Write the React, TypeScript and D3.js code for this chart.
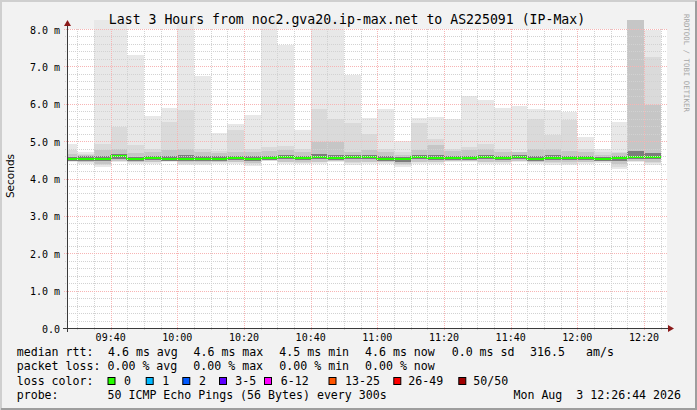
import * as d3 from 'd3';
import React, { useEffect, useRef } from 'react';

// 5 minute steps, label = end of each step
const stepEnds = [
  '09:30', '09:35', '09:40', '09:45', '09:50', '09:55', '10:00', '10:05', '10:10',
  '10:15', '10:20', '10:25', '10:30', '10:35', '10:40', '10:45', '10:50', '10:55',
  '11:00', '11:05', '11:10', '11:15', '11:20', '11:25', '11:30', '11:35', '11:40',
  '11:45', '11:50', '11:55', '12:00', '12:05', '12:10', '12:15', '12:20', '12:25'
];

// ms (top of each gray layer)
const maxRtt = [
  4.93, 4.71, 8.5, 8.5, 7.3, 5.67, 5.89, 8.5, 6.73, 5.22, 5.47, 5.71,
  8.5, 7.56, 5.31, 8.5, 8.5, 6.76, 5.62, 5.87, 5.0, 5.62, 5.65, 5.6,
  6.21, 6.11, 5.89, 5.95, 5.85, 5.83, 5.78, 5.1, 4.8, 5.51, 8.5, 7.96
];
const hi2 = [
  4.76, 4.66, 4.93, 5.38, 4.89, 4.8, 5.51, 5.82, 4.78, 4.74, 5.29, 4.78,
  4.85, 4.87, 4.78, 5.85, 5.6, 5.49, 5.2, 4.78, 4.72, 5.49, 5.07, 4.78,
  4.85, 4.91, 4.78, 4.72, 5.6, 5.16, 5.56, 4.78, 4.7, 4.72, 8.5, 7.25
];
const hi3 = [
  4.66, 4.62, 4.76, 4.78, 4.68, 4.7, 4.76, 4.8, 4.72, 4.68, 4.72, 4.7,
  4.74, 4.76, 4.7, 4.98, 4.98, 4.72, 4.76, 4.7, 4.62, 4.76, 4.89, 4.74,
  4.76, 4.78, 4.72, 4.7, 4.78, 4.8, 4.74, 4.72, 4.62, 4.68, 8.5, 5.96
];
const hi4 = [
  4.58, 4.6, 4.6, 4.65, 4.58, 4.61, 4.6, 4.62, 4.6, 4.59, 4.6, 4.6,
  4.61, 4.64, 4.6, 4.66, 4.62, 4.64, 4.63, 4.6, 4.58, 4.64, 4.62, 4.61,
  4.61, 4.64, 4.61, 4.64, 4.6, 4.62, 4.61, 4.61, 4.58, 4.6, 4.74, 4.68
];
const median = [
  4.52, 4.535, 4.53, 4.59, 4.52, 4.55, 4.535, 4.535, 4.535, 4.535, 4.54, 4.535,
  4.55, 4.585, 4.545, 4.585, 4.545, 4.585, 4.575, 4.535, 4.515, 4.585, 4.55, 4.55,
  4.55, 4.585, 4.55, 4.585, 4.53, 4.56, 4.55, 4.545, 4.52, 4.55, 4.585, 4.585
];
const lo4 = [
  4.47, 4.48, 4.47, 4.53, 4.47, 4.5, 4.48, 4.48, 4.48, 4.48, 4.49, 4.48,
  4.5, 4.53, 4.49, 4.53, 4.49, 4.53, 4.52, 4.48, 4.45, 4.53, 4.5, 4.5,
  4.5, 4.53, 4.5, 4.53, 4.48, 4.5, 4.49, 4.49, 4.47, 4.48, 4.52, 4.52
];
const lo3 = [
  4.49, 4.45, 4.4, 4.48, 4.45, 4.45, 4.48, 4.43, 4.43, 4.45, 4.45, 4.42,
  4.5, 4.45, 4.44, 4.45, 4.48, 4.44, 4.45, 4.45, 4.4, 4.45, 4.45, 4.48,
  4.48, 4.45, 4.45, 4.48, 4.45, 4.44, 4.43, 4.45, 4.47, 4.38, 4.48, 4.44
];
const lo2 = [
  4.47, 4.43, 4.35, 4.46, 4.43, 4.43, 4.46, 4.39, 4.39, 4.43, 4.43, 4.38,
  4.48, 4.43, 4.41, 4.43, 4.46, 4.41, 4.43, 4.43, 4.35, 4.43, 4.43, 4.46,
  4.46, 4.43, 4.43, 4.46, 4.43, 4.41, 4.39, 4.43, 4.45, 4.32, 4.46, 4.41
];
const minRtt = [
  4.44, 4.4, 4.31, 4.44, 4.4, 4.4, 4.44, 4.35, 4.35, 4.4, 4.4, 4.34,
  4.46, 4.4, 4.38, 4.4, 4.44, 4.37, 4.4, 4.4, 4.31, 4.4, 4.4, 4.44,
  4.44, 4.4, 4.4, 4.44, 4.4, 4.37, 4.35, 4.4, 4.42, 4.26, 4.44, 4.37
];

const yTicks = [0, 1, 2, 3, 4, 5, 6, 7, 8];

const statLine1 = [
  ['median rtt:', 16.7], ['4.6 ms avg', 108], ['4.6 ms max', 193.5], ['4.5 ms min', 279.3],
  ['4.6 ms now', 365], ['0.0 ms sd', 451.7], ['316.5', 530], ['am/s', 586]
] as const;
const statLine2 = [
  ['packet loss:', 16.7], ['0.00 % avg', 107.5], ['0.00 % max', 193.3], ['0.00 % min', 279.3],
  ['0.00 % now', 365]
] as const;
// loss colour legend: label, swatch colour, swatch x, label x
const lossLegend = [
  ['0', '#26ff00', 107.5, 124],
  ['1', '#00b8ff', 145.7, 162.3],
  ['2', '#0059ff', 182.3, 199],
  ['3-5', '#5e00ff', 219, 235.3],
  ['6-12', '#ff00ff', 264, 280.7],
  ['13-25', '#ff5500', 328.5, 345],
  ['26-49', '#ff0000', 393.3, 408.3],
  ['50/50', '#a10000', 458.3, 473.3]
] as const;

const W = 697;
const H = 410;
const mono = '"DejaVu Sans Mono", monospace';

const toDate = (hhmm: string) => {
  const [h, m] = hhmm.split(':').map(Number);
  return new Date(2026, 7, 3, h, m, 0);
};

const SmokeChart: React.FC = () => {
  const ref = useRef<SVGSVGElement>(null);

  useEffect(() => {
    const svg = d3.select(ref.current);
    svg.selectAll('*').remove();

    const tStart = new Date(2026, 7, 3, 9, 26, 54);
    const tEnd = new Date(2026, 7, 3, 12, 26, 54);
    const x = d3.scaleTime().domain([tStart, tEnd]).range([67, 667]);
    const y = d3.scaleLinear().domain([0, 8]).range([328, 29]);
    const crisp = (v: number) => Math.round(v) + 0.5;

    // background + 3d frame like rrdtool
    svg.append('rect').attr('width', W).attr('height', H).attr('fill', '#f2f2f2');
    svg.append('path').attr('d', `M1,${H} V1 H${W}`).attr('stroke', '#cfcfcf').attr('stroke-width', 2).attr('fill', 'none');
    svg.append('path').attr('d', `M1,${H - 1} H${W - 1} V1`).attr('stroke', '#9e9e9e').attr('stroke-width', 2).attr('fill', 'none');

    svg.append('rect').attr('x', 67).attr('y', 29).attr('width', 600).attr('height', 299).attr('fill', '#fff');

    svg.append('defs').append('clipPath').attr('id', 'plotClip')
      .append('rect').attr('x', 67).attr('y', 20).attr('width', 600).attr('height', 308);

    const plot = svg.append('g').attr('clip-path', 'url(#plotClip)');

    // smoke layers, outer = light, inner = dark
    const layers = [
      { top: maxRtt, bot: minRtt, color: '#e8e8e8' },
      { top: hi2, bot: lo2, color: '#dadada' },
      { top: hi3, bot: lo3, color: '#c6c6c6' },
      { top: hi4, bot: lo4, color: '#7c7c7c' }
    ];
    layers.forEach((layer) => {
      plot.append('g').selectAll('rect')
        .data(stepEnds)
        .enter()
        .append('rect')
        .attr('x', (d) => x(d3.timeMinute.offset(toDate(d), -5)))
        .attr('width', (d) => x(toDate(d)) - x(d3.timeMinute.offset(toDate(d), -5)))
        .attr('y', (_d, i) => y(Math.min(layer.top[i], 8.5)))
        .attr('height', (_d, i) => y(layer.bot[i]) - y(Math.min(layer.top[i], 8.5)))
        .attr('fill', layer.color)
        .attr('shape-rendering', 'crispEdges');
    });

    // grid (dotted, drawn over the smoke)
    const grid = svg.append('g').attr('shape-rendering', 'crispEdges');
    const minorCol = '#d2d2d2';
    const majorCol = '#f7b4b4';
    const minorY = d3.range(0, 8.01, 0.2).filter((v) => Math.abs(v - Math.round(v)) > 0.01);
    grid.selectAll('.hminor').data(minorY).enter().append('line')
      .attr('x1', 65).attr('x2', 667)
      .attr('y1', (d) => crisp(y(d))).attr('y2', (d) => crisp(y(d)))
      .attr('stroke', minorCol).attr('stroke-dasharray', '1,1');
    const minorX = d3.timeMinute.every(5)!.range(tStart, tEnd).filter((d) => d.getMinutes() % 20 !== 0);
    grid.selectAll('.vminor').data(minorX).enter().append('line')
      .attr('x1', (d) => crisp(x(d))).attr('x2', (d) => crisp(x(d)))
      .attr('y1', 29).attr('y2', 330)
      .attr('stroke', minorCol).attr('stroke-dasharray', '1,1');
    grid.selectAll('.hmajor').data(yTicks.filter((v) => v > 0)).enter().append('line')
      .attr('x1', 64).attr('x2', 667)
      .attr('y1', (d) => crisp(y(d))).attr('y2', (d) => crisp(y(d)))
      .attr('stroke', majorCol).attr('stroke-dasharray', '1,1');
    const majorX = d3.timeMinute.every(20)!.range(tStart, tEnd);
    grid.selectAll('.vmajor').data(majorX).enter().append('line')
      .attr('x1', (d) => crisp(x(d))).attr('x2', (d) => crisp(x(d)))
      .attr('y1', 29).attr('y2', 331)
      .attr('stroke', majorCol).attr('stroke-dasharray', '1,1');

    // median line (loss 0 -> green)
    const pts: [Date, number][] = stepEnds.map((d, i) => [d3.timeMinute.offset(toDate(d), -5), median[i]]);
    pts.push([toDate(stepEnds[stepEnds.length - 1]), median[median.length - 1]]);
    const medLine = d3.line<[Date, number]>()
      .x((d) => x(d[0]))
      .y((d) => y(d[1]))
      .curve(d3.curveStepAfter);
    plot.append('path').attr('d', medLine(pts)).attr('fill', 'none')
      .attr('stroke', '#26ff00').attr('stroke-width', 2).attr('shape-rendering', 'crispEdges');

    // axes
    svg.append('line').attr('x1', 63).attr('x2', 669).attr('y1', 328.5).attr('y2', 328.5).attr('stroke', '#3a3a3a');
    svg.append('line').attr('x1', 67.5).attr('x2', 67.5).attr('y1', 332).attr('y2', 25).attr('stroke', '#3a3a3a');
    svg.append('path').attr('d', 'M64,26 L71,26 L67.5,20 Z').attr('fill', '#8b1a1a');
    svg.append('path').attr('d', 'M668,325 L668,332 L674,328.5 Z').attr('fill', '#8b1a1a');

    // tick labels
    svg.append('g').selectAll('text').data(yTicks).enter().append('text')
      .attr('x', 60).attr('y', (d) => y(d) + 4.5)
      .attr('text-anchor', 'end')
      .attr('font-family', mono).attr('font-size', 10).attr('fill', '#000')
      .text((d) => (d === 0 ? '0.0' : `${d.toFixed(1)} m`));
    const fmt = d3.timeFormat('%H:%M');
    svg.append('g').selectAll('text').data(majorX).enter().append('text')
      .attr('x', (d) => x(d)).attr('y', 340.5)
      .attr('text-anchor', 'middle')
      .attr('font-family', mono).attr('font-size', 10).attr('fill', '#000')
      .text((d) => fmt(d));

    // title + vertical labels
    svg.append('text').attr('x', 347).attr('y', 23.5).attr('text-anchor', 'middle')
      .attr('font-family', mono).attr('font-size', 13.2).attr('fill', '#000')
      .text('Last 3 Hours from noc2.gva20.ip-max.net to AS225091 (IP-Max)');
    svg.append('text').attr('transform', 'translate(684,14) rotate(90)')
      .attr('font-family', mono).attr('font-size', 7.4).attr('fill', '#a6a6a6')
      .text('RRDTOOL / TOBI OETIKER');
    svg.append('text')
      .attr('transform', 'rotate(-90, 10, 176)')
      .attr('x', 10).attr('y', 180).attr('text-anchor', 'middle')
      .attr('font-family', '"DejaVu Sans", sans-serif').attr('font-size', 10.5).attr('fill', '#000')
      .text('Seconds');

    // legend
    const leg = svg.append('g').attr('font-family', mono).attr('font-size', 11.6).attr('fill', '#000');
    const legText = (t: string, px: number, py: number) =>
      leg.append('text').attr('x', px).attr('y', py).attr('xml:space', 'preserve')
        .style('white-space', 'pre').text(t);
    statLine1.forEach(([t, px]) => legText(t, px, 356));
    statLine2.forEach(([t, px]) => legText(t, px, 370.3));
    legText('loss color:', 16.7, 384.6);
    lossLegend.forEach(([t, c, bx, tx]) => {
      leg.append('rect').attr('x', bx + 0.5).attr('y', 377.5).attr('width', 7).attr('height', 7)
        .attr('fill', c).attr('stroke', '#000').attr('stroke-width', 1);
      legText(t, tx, 384.6);
    });
    legText('probe:', 16.7, 399);
    legText('50 ICMP Echo Pings (56 Bytes) every 300s', 107.5, 399);
    legText('Mon Aug  3 12:26:44 2026', 681, 399).attr('text-anchor', 'end');
  }, []);

  return (
    <svg
      ref={ref}
      width={W}
      height={H}
      style={{ position: 'fixed', left: 0, top: 0, display: 'block' }}
    ></svg>
  );
};

export default function App() {
  return <SmokeChart />;
}
